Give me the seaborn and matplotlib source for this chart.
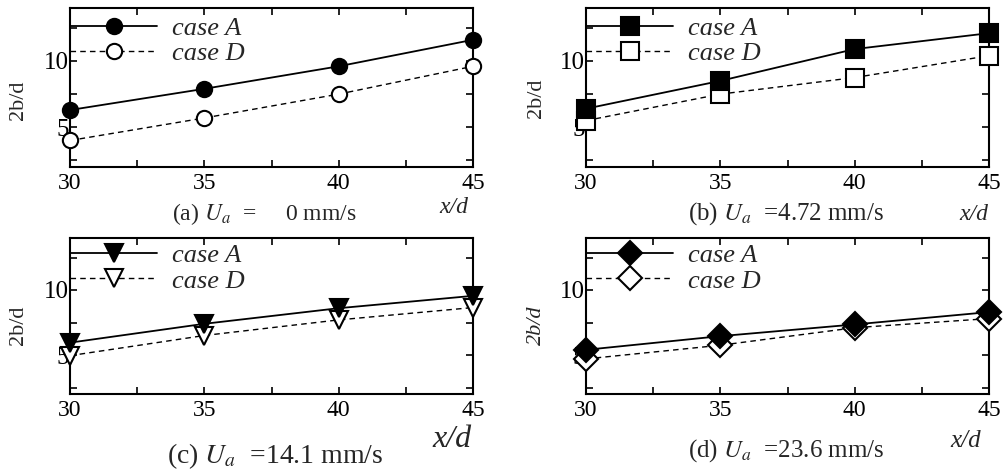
import matplotlib
matplotlib.use("Agg")
import matplotlib.pyplot as plt
import seaborn as sns
from matplotlib.ticker import FixedLocator, FixedFormatter

# ---------------- data ----------------
x_d = [30, 35, 40, 45]

a_caseA = [6.3, 7.9, 9.6, 11.6]
a_caseD = [4.0, 5.7, 7.5, 9.6]
b_caseA = [6.4, 8.5, 10.9, 12.1]
b_caseD = [5.5, 7.5, 8.75, 10.4]
c_caseA = [5.95, 7.4, 8.6, 9.55]
c_caseD = [4.95, 6.5, 7.7, 8.65]
d_caseA = [5.4, 6.45, 7.35, 8.3]
d_caseD = [4.7, 5.75, 7.1, 7.8]

series_labels = ["case A", "case D"]
captions = ["(a) $U_a$  =     0 mm/s", "(b) $U_a$  =4.72 mm/s",
            "(c) $U_a$  =14.1 mm/s", "(d) $U_a$  =23.6 mm/s"]
ylabels = ["2b/d", "2b/d", "2b/d", "2b/d"]
xlabel = "x/d"

xtick_pos = [30, 32.5, 35, 37.5, 40, 42.5, 45]
xtick_labels = ["30", "", "35", "", "40", "", "45"]
ytick_pos = [2.5, 5, 7.5, 10, 12.5]
ytick_labels = ["", "5", "", "10", ""]

# ---------------- style ----------------
sns.set_style("ticks")
plt.rcParams["font.family"] = ["Liberation Serif", "DejaVu Serif"]
plt.rcParams["mathtext.fontset"] = "stix"

W, H = 1006, 475
fig = plt.figure(figsize=(W / 100, H / 100), dpi=100)

# axes rectangles in pixels: left, top, right, bottom
rects_px = [(70, 8, 473, 167), (586, 8, 989, 167),
            (70, 238, 473, 394), (586, 238, 989, 394)]
panels = [(a_caseA, a_caseD), (b_caseA, b_caseD),
          (c_caseA, c_caseD), (d_caseA, d_caseD)]
markers = ["o", "s", "v", "D"]
msizes = [11, 12.5, 13, 12.5]
ylabel_italic = [False, False, False, True]
# text placement (axes coords)
ylabel_xy = [(-0.104, 0.42), (-0.10, 0.43), (-0.104, 0.44), (-0.10, 0.44)]
cap_xy = [(0.253, -0.333), (0.253, -0.333), (0.241, -0.442), (0.253, -0.404)]
cap_size = [17, 18, 20, 18]
xl_xy = [(0.952, -0.289), (0.963, -0.333), (0.948, -0.34), (0.943, -0.34)]
xl_size = [17, 17, 23, 18]
leg_y = [0.947, 0.947, 0.965, 0.965]

for i, ((yA, yD), (l, t, r, b)) in enumerate(zip(panels, rects_px)):
    ax = fig.add_axes([l / W, 1 - b / H, (r - l) / W, (b - t) / H])
    m = markers[i]
    sns.lineplot(x=x_d, y=yA, ax=ax, color="black", linewidth=1.3,
                 marker=m, markersize=msizes[i], markerfacecolor="black",
                 markeredgecolor="black", markeredgewidth=1.5,
                 errorbar=None, label=series_labels[0], clip_on=False, zorder=4)
    sns.lineplot(x=x_d, y=yD, ax=ax, color="black", linewidth=1.0,
                 linestyle=(0, (4, 3)),
                 marker=m, markersize=msizes[i], markerfacecolor="white",
                 markeredgecolor="black", markeredgewidth=1.5,
                 errorbar=None, label=series_labels[1], clip_on=False, zorder=3)
    ax.set_xlim(30, 45)
    ax.set_ylim(2, 14)
    ax.xaxis.set_major_locator(FixedLocator(xtick_pos))
    ax.xaxis.set_major_formatter(FixedFormatter(xtick_labels))
    ax.yaxis.set_major_locator(FixedLocator(ytick_pos))
    ax.yaxis.set_major_formatter(FixedFormatter(ytick_labels))
    ax.tick_params(direction="in", top=True, right=True, length=5, width=1.2,
                   labelsize=17, colors="black")
    ax.tick_params(axis="x", pad=4)
    ax.tick_params(axis="y", pad=1, labelsize=18)
    for sp in ax.spines.values():
        sp.set_linewidth(1.5)
        sp.set_color("black")
    ax.set_xlabel("")
    ax.set_ylabel(ylabels[i], fontsize=16,
                  fontstyle="italic" if ylabel_italic[i] else "normal")
    ax.yaxis.set_label_coords(*ylabel_xy[i])

    h, lab = ax.get_legend_handles_labels()
    ax.legend(h, lab, loc="upper left", bbox_to_anchor=(0.0, leg_y[i]),
              frameon=False, borderpad=0, borderaxespad=0,
              handlelength=3.3, handletextpad=0.55, labelspacing=0.08,
              prop={"family": "Liberation Serif", "style": "italic", "size": 19})

    ax.text(*cap_xy[i], captions[i], transform=ax.transAxes, fontsize=cap_size[i],
            ha="left", va="baseline")
    ax.text(*xl_xy[i], xlabel, transform=ax.transAxes, fontsize=xl_size[i],
            fontstyle="italic", ha="center", va="baseline")

fig.savefig("out.png", dpi=100)
